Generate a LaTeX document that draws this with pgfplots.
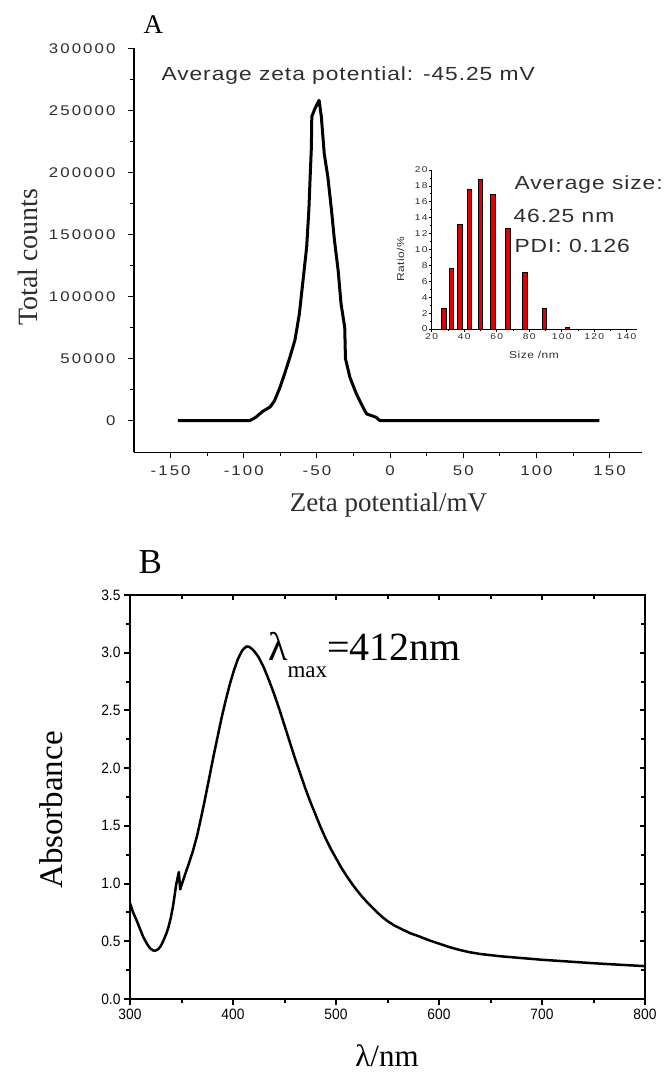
\documentclass[border=0pt]{standalone}
\usepackage{pgfplots}
\pgfplotsset{compat=1.18}
\usepackage{fontspec}
\setmainfont{Liberation Serif}
\newfontfamily\Asans[FakeStretch=1.2,LetterSpace=5]{Liberation Sans}
\newfontfamily\Atick[FakeStretch=1.2,LetterSpace=15]{Liberation Sans}
\newfontfamily\Bsans[FakeStretch=0.92]{Liberation Sans}
\definecolor{txtgray}{HTML}{2E2E2E}
\definecolor{barred}{HTML}{E00000}

\pgfplotstableread{
x y
-145 0
-96 0
-92 2500
-87 7500
-82 11000
-79 16000
-75.5 26000
-72 38000
-68.5 51000
-65 65000
-62 86000
-59.5 113000
-57 140000
-55.5 170000
-54.5 200000
-53.8 220000
-53.5 245000
-51.5 251000
-48.5 258000
-47 245000
-45 215000
-42.5 196000
-40 169000
-38 145000
-35.5 121000
-33.5 94000
-31 75000
-30.5 50000
-27.5 35000
-23 21500
-18.5 10700
-16 5400
-9.5 2700
-7 0
143 0
}\zetadata

\pgfplotstableread{
x y
27.6 2.6
32.2 7.6
37.4 13.2
43.2 17.6
50.0 18.8
57.8 16.9
66.9 12.6
77.4 7.1
89.5 2.6
103.6 0.2
}\sizedata

\pgfplotstableread{
x y
300 0.83
303 0.75
306.5 0.68
310 0.60
313 0.535
317 0.47
320 0.435
322.7 0.42
325 0.42
327.6 0.433
330 0.46
332.4 0.505
335 0.56
337.3 0.62
339.5 0.70
341.5 0.79
343.2 0.89
344.8 0.99
346.2 1.05
347.4 1.10
348.7 0.95
350.5 1.00
353.5 1.08
357 1.17
361 1.28
365 1.41
369 1.57
373 1.74
377 1.92
381 2.10
385 2.27
389 2.44
393 2.59
397 2.73
401 2.85
405 2.95
409 3.02
413 3.055
416 3.05
420 3.02
425 2.96
430 2.87
435 2.76
440 2.64
445 2.51
450 2.37
455 2.23
460 2.09
465 1.96
470 1.83
475 1.71
480 1.60
485 1.49
490 1.39
495 1.30
500 1.22
505 1.14
510 1.07
515 1.005
520 0.945
525 0.89
530 0.84
535 0.795
540 0.75
545 0.71
550 0.675
557 0.635
565 0.60
572 0.57
580 0.545
590 0.51
600 0.48
610 0.45
620 0.425
630 0.405
640 0.39
660 0.37
680 0.355
700 0.34
725 0.325
750 0.31
775 0.297
800 0.285
}\absdata

\begin{document}
\begin{tikzpicture}
\useasboundingbox (0pt,0pt) rectangle (665pt,-1074pt);

% ---------------- Panel A ----------------
\begin{axis}[
  at={(134pt,-452.3pt)}, anchor=south west,
  scale only axis, width=507.8pt, height=404.1pt,
  xmin=-175, xmax=172, ymin=-25500, ymax=300000,
  scaled y ticks=false, scaled x ticks=false,
  axis x line*=bottom, axis y line*=left,
  axis line style={line width=1.3pt, -},
  tick align=outside,
  xtick={-150,-100,...,150}, ytick={0,50000,...,300000},
  minor x tick num=1, minor y tick num=1,
  major tick length=6pt, minor tick length=4pt,
  tick style={line width=1pt, black},
  xticklabels={-150,-100,-50,0,50,100,150},
  yticklabels={0,50000,100000,150000,200000,250000,300000},
  ticklabel style={font=\Atick\fontsize{14}{16}\selectfont, text=txtgray},
  yticklabel style={xshift=-9pt},
  xticklabel style={yshift=-4pt},
  clip=false,
]
\addplot[black, line width=3pt, line join=round] table[x=x,y=y] {\zetadata};
\end{axis}

% inset
\begin{axis}[
  at={(431.7pt,-329pt)}, anchor=south west,
  scale only axis, width=205pt, height=159pt,
  xmin=20, xmax=146.2, ymin=0, ymax=20,
  axis x line*=bottom, axis y line*=left,
  axis line style={line width=1pt, -},
  tick align=outside,
  xtick={20,40,...,140}, ytick={0,2,...,20},
  minor x tick num=1, minor y tick num=1,
  major tick length=3pt, minor tick length=2pt,
  tick style={line width=0.8pt, black},
  xticklabels={20,40,60,80,100,120,140},
  yticklabels={0,2,4,6,8,10,12,14,16,18,20},
  ticklabel style={font=\Atick\fontsize{8.5}{10}\selectfont, text=txtgray, inner sep=1pt},
  ybar, bar width=4.5pt,
]
\addplot[fill=barred, draw=black, line width=0.8pt] table[x=x,y=y] {\sizedata};
\end{axis}

\node[anchor=base west, font=\fontsize{27}{30}\selectfont] at (140pt,-33pt) {A};
\node[anchor=base west, font=\Asans\fontsize{19}{22}\selectfont, text=txtgray] at (158pt,-80pt) {Average zeta potential: -45.25 mV};
\node[anchor=base west, font=\Asans\fontsize{19}{22}\selectfont, text=txtgray] at (511pt,-189pt) {Average size:};
\node[anchor=base west, font=\Asans\fontsize{19}{22}\selectfont, text=txtgray] at (510pt,-222pt) {46.25 nm};
\node[anchor=base west, font=\Asans\fontsize{19}{22}\selectfont, text=txtgray] at (511pt,-252pt) {PDI: 0.126};
\node[rotate=90, anchor=base, font=\Asans\fontsize{10}{12}\selectfont, text=txtgray] at (404pt,-259pt) {Ratio/\%};
\node[anchor=base, font=\Asans\fontsize{10}{12}\selectfont, text=txtgray] at (534pt,-358pt) {Size /nm};
\node[rotate=90, anchor=base, font=\fontsize{28}{30}\selectfont, text=txtgray] at (37pt,-257pt) {Total counts};
\node[anchor=base, font=\fontsize{27}{30}\selectfont, text=txtgray] at (388.5pt,-511pt) {Zeta potential/mV};

% ---------------- Panel B ----------------
\begin{axis}[
  at={(130pt,-999pt)}, anchor=south west,
  scale only axis, width=515pt, height=404pt,
  xmin=300, xmax=800, ymin=0, ymax=3.5,
  xtick={300,400,...,800}, ytick={0,0.5,...,3.5},
  minor x tick num=1, minor y tick num=1,
  xtick pos=left, ytick pos=left,
  tick align=outside,
  axis line style={line width=2.5pt},
  tick style={line width=2pt, black},
  major tick length=6pt, minor tick length=4pt,
  xticklabels={300,400,500,600,700,800},
  yticklabels={0.0,0.5,1.0,1.5,2.0,2.5,3.0,3.5},
  ticklabel style={font=\Bsans\fontsize{15}{17}\selectfont},
]
\addplot[black, line width=2.5pt, line join=round] table[x=x,y=y] {\absdata};
\end{axis}
\begin{axis}[
  at={(130pt,-999pt)}, anchor=south west,
  scale only axis, width=515pt, height=404pt,
  xmin=300, xmax=800, ymin=0, ymax=3.5,
  xtick={300,400,...,800}, ytick={0,0.5,...,3.5},
  minor x tick num=1, minor y tick num=1,
  xtick pos=right, ytick pos=right,
  tick align=inside,
  axis line style={draw=none},
  tick style={line width=2pt, black},
  major tick length=5pt, minor tick length=4pt,
  xticklabel=\empty, yticklabel=\empty,
]
\end{axis}

\node[anchor=base west, font=\fontsize{35}{38}\selectfont] at (135pt,-573pt) {B};
\node[anchor=base west, font=\fontsize{40}{44}\selectfont, inner sep=0pt] at (268pt,-660pt) {λ\raisebox{-17pt}{\fontsize{23}{25}\selectfont max}=412nm};
\node[rotate=90, anchor=base, font=\fontsize{33}{36}\selectfont] at (62pt,-810pt) {Absorbance};
\node[anchor=base, font=\fontsize{31}{34}\selectfont] at (387pt,-1066pt) {λ/nm};
\end{tikzpicture}
\end{document}
